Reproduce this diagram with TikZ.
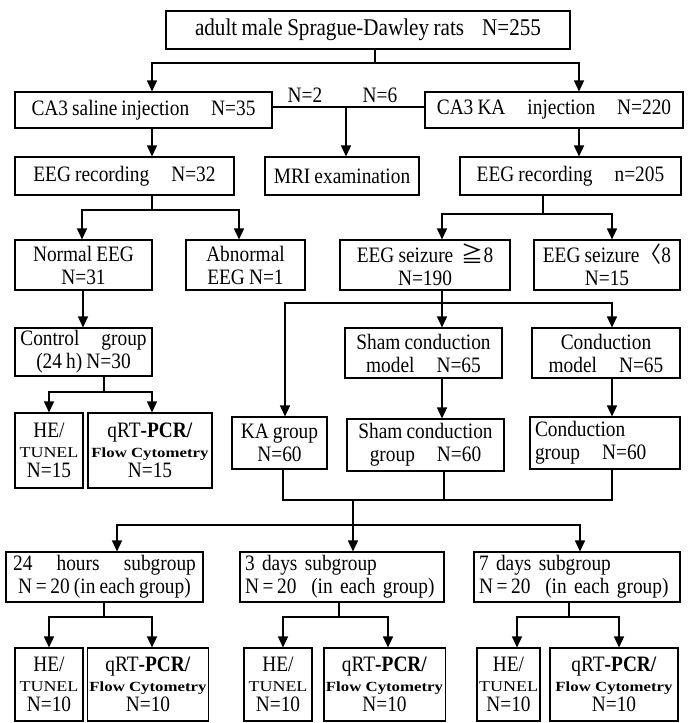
\documentclass[tikz,border=0pt]{standalone}
\usepackage{fontspec}
\setmainfont[FakeStretch=0.88,WordSpace=0.85]{Liberation Serif}
\newfontfamily\widefont[FakeStretch=1.2]{Liberation Serif}
\newfontfamily\cjk{Noto Sans CJK SC}
\usepackage{tikz}
\usetikzlibrary{arrows.meta}

\newcommand{\sm}{{\widefont\fontsize{15}{16}\selectfont TUNEL}}
\newcommand{\flow}{{\widefont\fontsize{14}{16}\selectfont\bfseries Flow Cytometry}}

\begin{document}
\begin{tikzpicture}[x=1pt,y=-1pt,font=\fontsize{22}{23}\selectfont]
		\tikzstyle{box}=[draw,line width=1.1pt,inner sep=2pt,align=center]
		\tikzstyle{ln}=[line width=1.4pt]
		\tikzstyle{arr}=[line width=1.4pt,-{Triangle[length=11pt,width=10pt]}]
		\useasboundingbox (0,0) rectangle (693,723);
		% first rows
		\node[box,minimum width=404,minimum height=38,font=\fontsize{24}{25}\selectfont] (rats) at (368,30) {adult male Sprague-Dawley rats\hspace{18pt}N=255};
		\node[box,minimum width=257,minimum height=36] (saline) at (143.5,110) {CA3 saline injection\quad N=35};
		\node[box,minimum width=258,minimum height=36] (ka) at (554,110) {CA3 KA\quad injection\quad N=220};
		\node (n2) at (305,95) {N=2};
		\node (n6) at (380,95) {N=6};
		\node[box,minimum width=219,minimum height=38] (eegl) at (124.5,176) {EEG recording\quad N=32};
		\node[box,minimum width=154,minimum height=38] (mri) at (342,176) {MRI examination};
		\node[box,minimum width=221,minimum height=38] (eegr) at (570.5,176) {EEG recording\quad n=205};
		\node[box,minimum width=137,minimum height=50] (normal) at (83.5,265) {Normal EEG\\N=31};
		\node[box,minimum width=119,minimum height=50] (abnormal) at (245.5,265) {Abnormal\\EEG N=1};
		\node[box,minimum width=170,minimum height=50] (sz) at (425,265) {EEG seizure\ \ {\cjk ≧}8\\N=190};
		\node[box,minimum width=146,minimum height=50] (szl) at (607,265) {EEG seizure{\cjk 〈}8\\N=15};
		% control and conduction models
		\node[box,minimum width=137,minimum height=48] (control) at (83.5,352) {Control\quad group\\(24 h) N=30};
		\node[box,minimum width=157,minimum height=50] (shamm) at (423.5,353) {Sham conduction\\model\quad N=65};
		\node[box,minimum width=148,minimum height=50] (condm) at (606,353) {Conduction\\model\quad N=65};
		\node[box,minimum width=68,minimum height=75] (hec) at (49,450.5) {HE/\\[-3pt]\sm\\[-3pt]N=15};
		\node[box,minimum width=124,minimum height=75] (pcrc) at (150,450.5) {qRT\textbf{-PCR/}\\[-3pt]\flow\\[-3pt]N=15};
		\node[box,minimum width=95,minimum height=52] (kag) at (279.5,443) {KA group\\N=60};
		\node[box,minimum width=157,minimum height=52] (shamg) at (425.5,445) {Sham conduction\\group\quad N=60};
		\node[box,text width=140,inner xsep=5,align=left,minimum height=52] (condg) at (605,443) {Conduction\\group\quad N=60};
		% subgroups
		\node[box,minimum width=197,minimum height=50] (sub24) at (104.5,577) {24\hspace{1.1em}hours\hspace{1.1em}subgroup\\N\,=\,20 (in each group)};
		\node[box,text width=194,inner xsep=5,align=left,minimum height=50] (sub3) at (342,577) {3 days subgroup\\N\,=\,20\ \ (in each group)};
		\node[box,text width=196,inner xsep=5,align=left,minimum height=50] (sub7) at (577,577) {7 days subgroup\\N\,=\,20\ \ (in each group)};
		\node[box,minimum width=68,minimum height=73] (hea) at (49,684.5) {HE/\\[-3pt]\sm\\[-3pt]N=10};
		\node[box,minimum width=120,minimum height=73] (pcra) at (148,684.5) {qRT\textbf{-PCR/}\\[-3pt]\flow\\[-3pt]N=10};
		\node[box,minimum width=68,minimum height=73] (heb) at (278,684.5) {HE/\\[-3pt]\sm\\[-3pt]N=10};
		\node[box,minimum width=121,minimum height=73] (pcrb) at (384.5,684.5) {qRT\textbf{-PCR/}\\[-3pt]\flow\\[-3pt]N=10};
		\node[box,minimum width=59,minimum height=73] (hed) at (508.5,684.5) {HE/\\[-3pt]\sm\\[-3pt]N=10};
		\node[box,minimum width=128,minimum height=73] (pcrd) at (614,684.5) {qRT\textbf{-PCR/}\\[-3pt]\flow\\[-3pt]N=10};
		% connectors
		\coordinate (j1) at (375,63);
		\draw[ln] (rats.south -| j1) -- (j1);
		\draw[arr] (j1) -| (saline.north -| 152,0);
		\draw[arr] (j1) -| (ka.north -| 579,0);
		\draw[ln] (saline.east |- 0,107) -- (ka.west |- 0,107);
		\draw[arr] (346,107) -- (mri.north -| 346,0);
		\draw[arr] (saline.south -| 152,0) -- (eegl.north -| 152,0);
		\draw[arr] (ka.south -| 579,0) -- (eegr.north -| 579,0);
		\coordinate (j2) at (152,210);
		\draw[ln] (eegl.south -| j2) -- (j2);
		\draw[arr] (j2) -| (normal.north -| 82,0);
		\draw[arr] (j2) -| (abnormal.north -| 239,0);
		\coordinate (j3) at (543,214);
		\draw[ln] (eegr.south -| j3) -- (j3);
		\draw[arr] (j3) -| (sz.north -| 442,0);
		\draw[arr] (j3) -| (szl.north -| 612,0);
		\draw[arr] (normal.south -| 83,0) -- (control.north -| 83,0);
		\coordinate (j4) at (442,303);
		\draw[ln] (sz.south -| j4) -- (j4);
		\draw[arr] (j4) -| (kag.north -| 285,0);
		\draw[arr] (j4) -- (shamm.north -| j4);
		\draw[arr] (j4) -| (condm.north -| 612,0);
		\draw[arr] (shamm.south -| 442,0) -- (shamg.north -| 442,0);
		\draw[arr] (condm.south -| 612,0) -- (condg.north -| 612,0);
		\coordinate (j5) at (104,392);
		\draw[ln] (control.south -| j5) -- (j5);
		\draw[arr] (j5) -| (hec.north -| 49,0);
		\draw[arr] (j5) -| (pcrc.north -| 152,0);
		% join of the three groups
		\coordinate (j6) at (353,500);
		\draw[ln] (kag.south -| 283,0) |- (j6) -| (condg.south -| 612,0);
		\draw[ln] (shamg.south -| 444,0) -- (444,500);
		\coordinate (j7) at (353,525);
		\draw[ln] (j6) -- (j7);
		\draw[arr] (j7) -| (sub24.north -| 117,0);
		\draw[arr] (j7) -- (sub3.north -| j7);
		\draw[arr] (j7) -| (sub7.north -| 580,0);
		\coordinate (j8) at (104,617);
		\draw[ln] (sub24.south -| j8) -- (j8);
		\draw[arr] (j8) -| (hea.north -| 49,0);
		\draw[arr] (j8) -| (pcra.north -| 152,0);
		\coordinate (j9) at (339,617);
		\draw[ln] (sub3.south -| j9) -- (j9);
		\draw[arr] (j9) -| (heb.north -| 283,0);
		\draw[arr] (j9) -| (pcrb.north -| 388,0);
		\coordinate (j10) at (569,617);
		\draw[ln] (sub7.south -| j10) -- (j10);
		\draw[arr] (j10) -| (hed.north -| 517,0);
		\draw[arr] (j10) -| (pcrd.north -| 619,0);
\end{tikzpicture}
\end{document}
